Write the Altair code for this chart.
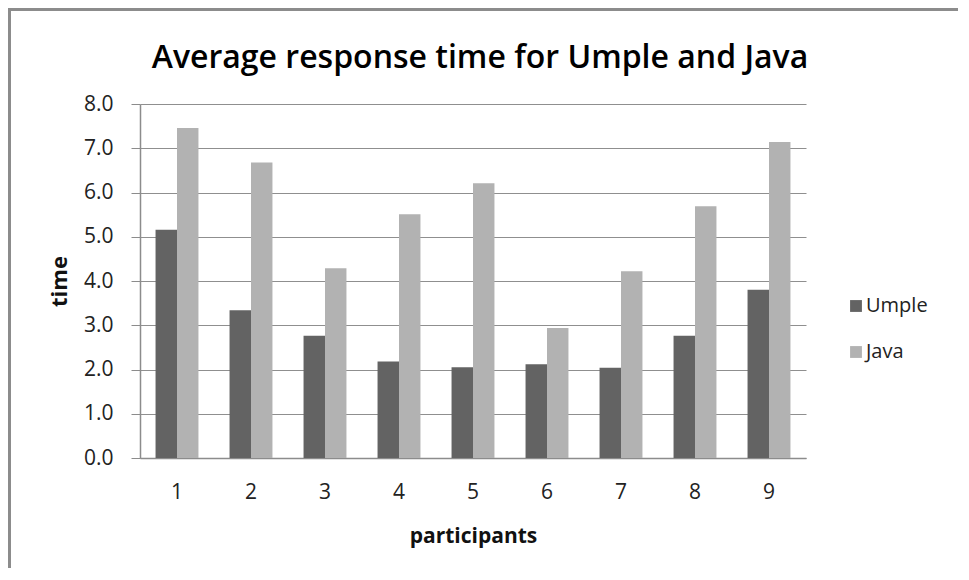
import altair as alt
import pandas as pd

participants = [1, 2, 3, 4, 5, 6, 7, 8, 9]
umple = [5.16, 3.34, 2.76, 2.18, 2.05, 2.12, 2.04, 2.76, 3.80]
java = [7.46, 6.68, 4.29, 5.51, 6.21, 2.94, 4.22, 5.69, 7.14]
series = ["Umple", "Java"]
colors = ["#636363", "#b2b2b2"]
y_ticks = [0, 1, 2, 3, 4, 5, 6, 7, 8]

rows = []
for p, u, j in zip(participants, umple, java):
    rows.append({"participant": p, "series": "Umple", "time": u})
    rows.append({"participant": p, "series": "Java", "time": j})
df = pd.DataFrame(rows)

FONT = "Open Sans"

bars = alt.Chart(df).mark_bar().encode(
    x=alt.X(
        "participant:O",
        scale=alt.Scale(paddingInner=0.42, paddingOuter=0.21),
        axis=alt.Axis(
            title="participants",
            labelAngle=0,
            ticks=False,
            labelPadding=23,
            labelFontSize=21,
            labelFont=FONT,
            labelColor="#222222",
            titleFont=FONT,
            titleFontSize=21,
            titleFontWeight="bold",
            titleColor="#111111",
            titleX=333,
            titleY=78,
            titleBaseline="middle",
            titleAlign="center",
            domainColor="#8c8c8c",
            domainWidth=1.5,
        ),
    ),
    xOffset=alt.XOffset("series:N", sort=series),
    y=alt.Y(
        "time:Q",
        scale=alt.Scale(domain=[0, 8], nice=False),
        axis=alt.Axis(
            title="time",
            values=y_ticks,
            format=".1f",
            tickSize=9,
            tickColor="#8c8c8c",
            labelPadding=18,
            labelFontSize=21,
            labelFont=FONT,
            labelColor="#222222",
            gridColor="#8f8f8f",
            gridWidth=1.2,
            domainColor="#8c8c8c",
            domainWidth=1.5,
            titleFont=FONT,
            titleFontSize=22,
            titleFontWeight="bold",
            titleColor="#111111",
            titleAngle=-90,
            titleX=-81,
            titleY=177,
            titleAlign="center",
            titleBaseline="middle",
        ),
    ),
    color=alt.Color(
        "series:N",
        sort=series,
        scale=alt.Scale(domain=series, range=colors),
        legend=alt.Legend(
            title=None,
            orient="none",
            legendX=706,
            legendY=192,
            symbolType="square",
            symbolSize=140,
            symbolStrokeWidth=0,
            labelFontSize=20,
            labelFont=FONT,
            labelColor="#222222",
            labelOffset=0,
            rowPadding=26,
        ),
    ),
)

frame = alt.Chart(df).mark_rect(filled=False, stroke="#8c8c8c", strokeWidth=2.5).encode(
    x=alt.value(-131),
    x2=alt.value(826),
    y=alt.value(-95),
    y2=alt.value(490),
)

chart = alt.layer(bars, frame).properties(
    width=666,
    height=354,
    title=alt.TitleParams(
        "Average response time for Umple and Java",
        anchor="middle",
        font=FONT,
        fontSize=32,
        fontWeight=600,
        color="#000000",
        dx=7,
        dy=67,
        offset=0,
    ),
    autosize=alt.AutoSizeParams(type="none"),
    padding={"left": 132, "top": 96, "right": 152, "bottom": 110},
    background="white",
).configure_view(stroke=None)

chart.save("out.html", embed_options={"renderer": "svg", "actions": False})
